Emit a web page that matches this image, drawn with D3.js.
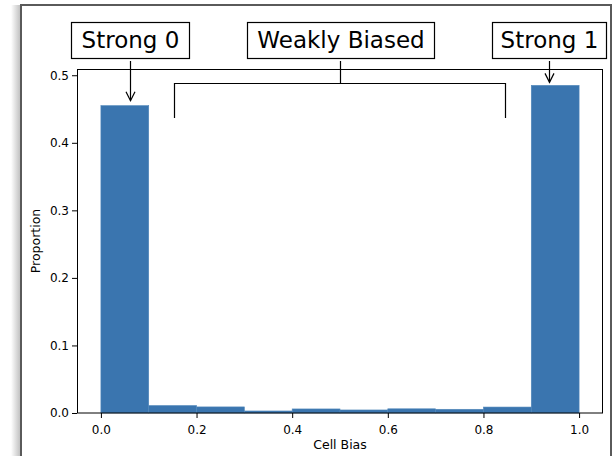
<!DOCTYPE html>
<html><head><meta charset="utf-8">
<script src="https://cdn.jsdelivr.net/npm/d3@7"></script>
<style>body{margin:0;background:#fff;}svg{display:block;font-family:"DejaVu Sans",sans-serif;}</style>
</head><body>
<svg id="c" width="613" height="456"></svg>
<script>
const binEdges = [0,0.1,0.2,0.3,0.4,0.5,0.6,0.7,0.8,0.9,1.0];
const proportions = [0.455,0.011,0.009,0.003,0.006,0.0045,0.0062,0.0055,0.0088,0.485];
const xTicks = [0.0,0.2,0.4,0.6,0.8,1.0];
const yTicks = [0.0,0.1,0.2,0.3,0.4,0.5];
const xLabel = "Cell Bias", yLabel = "Proportion";
const annLabels = ["Strong 0","Weakly Biased","Strong 1"];

const svg = d3.select("#c");
const defs = svg.append("defs");
const g = defs.append("linearGradient").attr("id","sh").attr("x1","0").attr("x2","1");
g.append("stop").attr("offset","0").attr("stop-color","#fff");
g.append("stop").attr("offset","1").attr("stop-color","#bbb");
svg.append("rect").attr("x",11).attr("y",5).attr("width",10).attr("height",456).attr("fill","url(#sh)");
svg.append("path").attr("d","M21,460V5H611V460").attr("fill","none").attr("stroke","#5a5a5a").attr("stroke-width",2);

const x = d3.scaleLinear().domain([-0.05,1.05]).range([77,603]);
const yMax = d3.max(proportions)*1.05;
const y = d3.scaleLinear().domain([0,yMax]).range([413,69]);

svg.append("g").selectAll("rect").data(proportions).join("rect")
  .attr("x",(d,i)=>x(binEdges[i])).attr("width",(d,i)=>x(binEdges[i+1])-x(binEdges[i]))
  .attr("y",d=>y(d)).attr("height",d=>y(0)-y(d))
  .attr("fill","#3a75af").attr("stroke","#4f86ba").attr("stroke-width",0.6);

const xa = svg.append("g").attr("transform","translate(0,413)")
  .call(d3.axisBottom(x).tickValues(xTicks).tickFormat(d3.format(".1f")).tickSize(5).tickSizeOuter(0));
const ya = svg.append("g").attr("transform","translate(77,0)")
  .call(d3.axisLeft(y).tickValues(yTicks).tickFormat(d3.format(".1f")).tickSize(5).tickSizeOuter(0));
[xa,ya].forEach(a=>{
  a.select(".domain").remove();
  a.selectAll("text").attr("font-size",12).attr("fill","#000").attr("font-family","DejaVu Sans");
  a.selectAll("line").attr("stroke","#000").attr("stroke-width",1);
});
xa.selectAll("text").attr("dy","1.05em");
ya.selectAll("text").attr("x",-8);
svg.append("rect").attr("x",77.5).attr("y",69.5).attr("width",525).attr("height",343.5)
  .attr("fill","none").attr("stroke","#000").attr("stroke-width",1);

svg.append("text").attr("x",(x(0)+x(1))/2).attr("y",449).attr("text-anchor","middle")
  .attr("font-size",12.5).text(xLabel);
svg.append("text").attr("transform","translate(40,241) rotate(-90)").attr("text-anchor","middle")
  .attr("font-size",12.5).text(yLabel);

// annotations
const boxes = [{x0:71,x1:189,cx:130},{x0:247,x1:434,cx:340.5},{x0:492,x1:606,cx:549}];
boxes.forEach((b,i)=>{
  svg.append("rect").attr("x",b.x0+0.5).attr("y",22.5).attr("width",b.x1-b.x0).attr("height",36)
    .attr("fill","#fff").attr("stroke","#000").attr("stroke-width",1.2);
  svg.append("text").attr("x",(b.x0+b.x1)/2+0.5).attr("y",47.5).attr("text-anchor","middle")
    .attr("font-size",23).text(annLabels[i]);
});
function arrow(cx,y0,y1){
  svg.append("line").attr("x1",cx).attr("x2",cx).attr("y1",y0).attr("y2",y1).attr("stroke","#000").attr("stroke-width",1.2);
  svg.append("path").attr("d",`M${cx-4.5},${y1-9}L${cx},${y1}L${cx+4.5},${y1-9}`).attr("fill","none").attr("stroke","#000").attr("stroke-width",1.2);
}
arrow(130.5,61,y(proportions[0])-5);
arrow(549.5,61,y(proportions[9])-3);
svg.append("path").attr("d","M340.5,61V83.5M174.5,118V83.5H505.5V118").attr("fill","none").attr("stroke","#000").attr("stroke-width",1.2);
</script>
</body></html>
